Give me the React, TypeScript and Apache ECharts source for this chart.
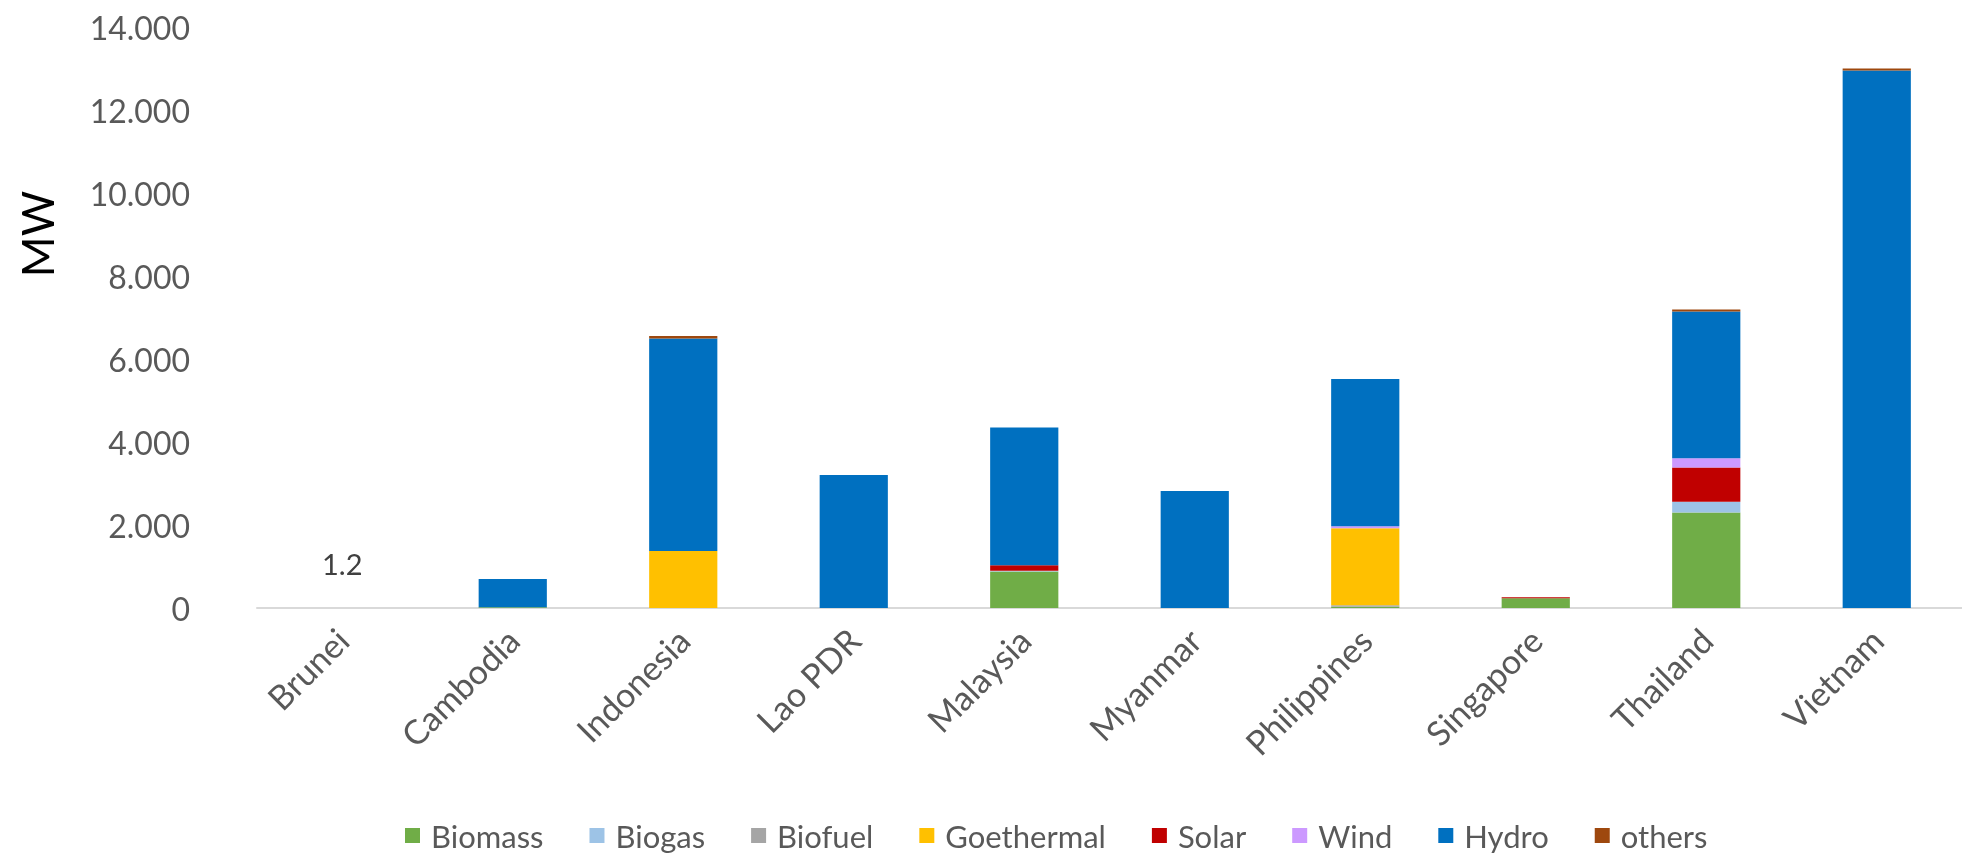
import React, { useEffect, useRef } from "react";
import * as echarts from "echarts";

const countries = ["Brunei", "Cambodia", "Indonesia", "Lao PDR", "Malaysia", "Myanmar", "Philippines", "Singapore", "Thailand", "Vietnam"];
const biomass = [0, 20, 0, 0, 880, 0, 30, 235, 2300, 0];
const biogas = [0, 0, 0, 0, 20, 0, 0, 0, 258, 0];
const biofuel = [0, 0, 0, 0, 0, 0, 35, 0, 0, 0];
const geothermal = [0, 0, 1373, 0, 0, 0, 1855, 0, 0, 0];
const solar = [1.2, 0, 0, 0, 130, 0, 0, 25, 826, 0];
const wind = [0, 0, 0, 0, 0, 0, 50, 0, 225, 0];
const hydro = [0, 680, 5120, 3205, 3320, 2820, 3550, 0, 3535, 12950];
const others = [0, 0, 60, 0, 0, 0, 0, 0, 48, 50];
const yTicks = [0, 2000, 4000, 6000, 8000, 10000, 12000, 14000];

const FONT = "Lato, 'Noto Sans', sans-serif";
const GRAY = "#595959";

function fmt(v: number): string {
  return String(Math.round(v)).replace(/\B(?=(\d{3})+(?!\d))/g, ".");
}

export default function App() {
  const ref = useRef<HTMLDivElement>(null);
  useEffect(() => {
    if (!ref.current) return;
    const chart = echarts.init(ref.current, undefined, { renderer: "svg" });
    const mk = (name: string, data: number[], color: string, labelIdx = -1) => ({
      name,
      type: "bar",
      stack: "total",
      barWidth: "40%",
      itemStyle: { color },
      data: data.map((v, i) =>
        i === labelIdx
          ? {
              value: v,
              label: {
                show: true,
                position: "top",
                distance: 30,
                formatter: "{c}",
                fontSize: 29,
                color: "#404040",
                fontFamily: FONT,
              },
            }
          : v
      ),
    });
    chart.setOption({
      animation: false,
      textStyle: { fontFamily: FONT },
      grid: { left: 257, width: 1720, top: 27, bottom: 250, containLabel: false },
      legend: {
        bottom: 2,
        left: 400,
        itemWidth: 15,
        itemHeight: 15,
        itemGap: 46,
        icon: "rect",
        textStyle: { fontSize: 31, color: GRAY, fontFamily: FONT, padding: [0, 0, 0, 6] },
      },
      xAxis: {
        type: "category",
        data: countries,
        axisLine: { lineStyle: { color: "#d9d9d9", width: 2 } },
        axisTick: { show: false },
        axisLabel: { rotate: 45, fontSize: 34, color: GRAY, margin: 26, interval: 0, fontFamily: FONT },
      },
      yAxis: {
        type: "value",
        min: yTicks[0],
        max: yTicks[yTicks.length - 1],
        interval: 2000,
        splitLine: { show: false },
        axisLine: { show: false },
        axisTick: { show: false },
        axisLabel: { fontSize: 32, color: GRAY, margin: 67, formatter: (v: number) => fmt(v), fontFamily: FONT },
      },
      graphic: [
        {
          type: "text",
          x: 37,
          y: 234,
          rotation: Math.PI / 2,
          style: {
            text: "MW",
            fontSize: 44,
            fill: "#000",
            fontFamily: FONT,
            align: "center",
            verticalAlign: "middle",
          },
        },
      ],
      series: [
        mk("Biomass", biomass, "#70AD47"),
        mk("Biogas", biogas, "#9DC3E6"),
        mk("Biofuel", biofuel, "#A5A5A5"),
        mk("Goethermal", geothermal, "#FFC000"),
        mk("Solar", solar, "#C00000", 0),
        mk("Wind", wind, "#CC99FF"),
        mk("Hydro", hydro, "#0070C0"),
        mk("others", others, "#9E480E"),
      ],
    });
    return () => chart.dispose();
  }, []);
  return <div ref={ref} style={{ position: "fixed", left: 0, top: 0, width: 1962, height: 858 }} />;
}
